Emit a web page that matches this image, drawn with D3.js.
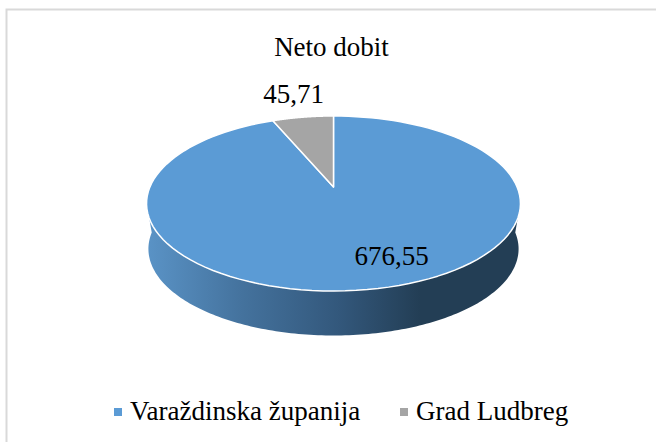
<!DOCTYPE html>
<html><head><meta charset="utf-8">
<script src="https://cdn.jsdelivr.net/npm/d3@7"></script>
<style>html,body{margin:0;background:#fff}svg{display:block}text{font-family:"Liberation Serif",serif;fill:#000}</style>
</head><body><svg id="c" width="656" height="442"></svg>
<script>
const chartTitle = "Neto dobit";
const categories = ["Varaždinska županija", "Grad Ludbreg"];
const values = [676.55, 45.71];
const valueLabels = ["676,55", "45,71"];
const colors = ["#5b9bd5", "#a5a5a5"];

const svg = d3.select("#c");
const cx = 333.5, apexY = 187, k = 0.1886, b = 84.4, a = 183.6;
const project = (ang, r, dy=0, s=1) => {
  const u = r*Math.sin(ang), v = -r*Math.cos(ang), d = 1 - k*v;
  return [cx + s*a*u/d, apexY + dy + s*b*v/d];
};
const pie = d3.pie().sort(null).startAngle(0).endAngle(2*Math.PI);
const arcs = pie(values);
const line = d3.line();
const wedge = (d, dy=0) => {
  const pts = d3.range(0, 121).map(i => project(d.startAngle + (d.endAngle-d.startAngle)*i/120, 1, dy));
  return line([[cx, apexY + dy], ...pts]) + "Z";
};

const defs = svg.append("defs");
const g = defs.append("linearGradient").attr("id","side").attr("gradientUnits","userSpaceOnUse")
  .attr("x1",147).attr("x2",420).attr("y1",0).attr("y2",0);
[[0,"#5a93c6"],[0.35,"#44729d"],[0.7,"#33587c"],[1,"#233e55"]].forEach(([o,c])=>g.append("stop").attr("offset",o).attr("stop-color",c));

// frame: top and left edges only are visible in the reference
svg.append("path").attr("d", line([[6.5,442],[6.5,9.5],[656,9.5]]))
  .attr("fill","none").attr("stroke","#d9d9d9").attr("stroke-width",2);

// side wall: lower rim
const rimDy = 45.5, rimS = 0.99;
const rim = d3.range(0,181).map(i => project(Math.PI/2 + Math.PI*i/180, 1, rimDy, rimS));
const topLeft = project(-Math.PI/2-0.18, 1), topRight = project(Math.PI/2+0.18, 1);
svg.append("path").attr("fill","url(#side)")
  .attr("d", line([topRight, ...rim, topLeft])+"Z");

// top faces
svg.selectAll("path.slice").data(arcs).enter().append("path").attr("class","slice")
  .attr("d", d=>wedge(d)).attr("fill",(d,i)=>colors[i])
  .attr("stroke","#fff").attr("stroke-width",1.5).attr("stroke-linejoin","round");

svg.append("text").attr("x",331.5).attr("y",56).attr("text-anchor","middle").attr("font-size",27).text(chartTitle);
const labelPos = [[391.5,265],[293.5,103]];
svg.selectAll("text.val").data(valueLabels).enter().append("text").attr("class","val")
  .attr("x",(d,i)=>labelPos[i][0]).attr("y",(d,i)=>labelPos[i][1])
  .attr("text-anchor","middle").attr("font-size",27).text(d=>d);

// legend
const leg = svg.selectAll("g.leg").data(categories).enter().append("g").attr("class","leg");
leg.append("rect").attr("x",(d,i)=>[114,400][i]).attr("y",408).attr("width",8).attr("height",8).attr("fill",(d,i)=>colors[i]);
leg.append("text").attr("x",(d,i)=>[130,416][i]).attr("y",420).attr("font-size",27).text(d=>d);
</script></body></html>
